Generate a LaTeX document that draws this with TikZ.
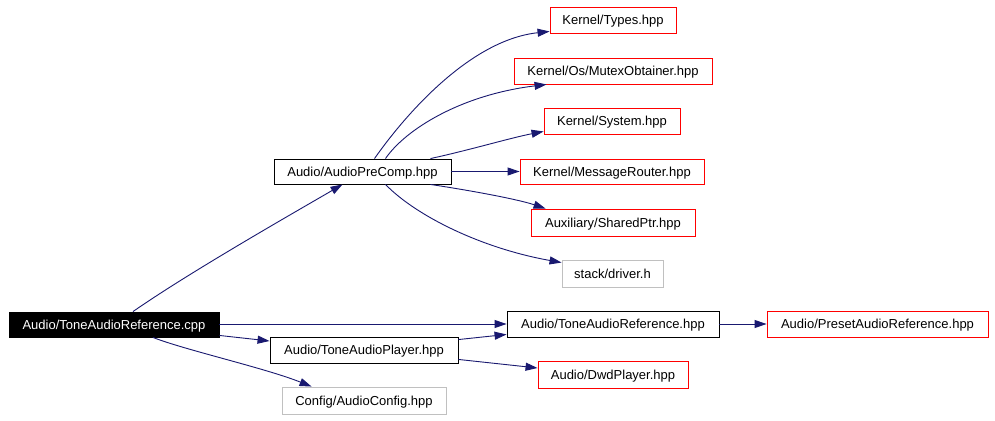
\documentclass[tikz,border=0pt]{standalone}
\usepackage{fontspec}
\setmainfont{Liberation Sans}
\usetikzlibrary{arrows.meta}
\definecolor{edgeblue}{HTML}{191970}
\definecolor{boxgray}{HTML}{C0C0C0}
\begin{document}
\begin{tikzpicture}[x=1pt,y=-1pt,
  box/.style={draw=black,line width=0.9pt,inner sep=0pt,text height=9.4pt,text depth=0pt,font=\fontsize{13}{15}\selectfont,text=black},
  redbox/.style={box,draw=red},
  graybox/.style={box,draw=boxgray},
  rootbox/.style={box,fill=black,text=white},
  dep/.style={draw=edgeblue,line width=0.9pt,-{Triangle[length=12pt,width=8pt]}}]
\path[use as bounding box,fill=white] (0,0) rectangle (995,420);
% nodes
\node[rootbox,minimum width=210pt,minimum height=25pt] (cpp) at (114,324.5) {Audio/ToneAudioReference.cpp};
\node[box,minimum width=177pt,minimum height=25pt] (pc) at (362.5,171.5) {Audio/AudioPreComp.hpp};
\node[redbox,minimum width=126pt,minimum height=26pt] (types) at (613,20) {Kernel/Types.hpp};
\node[redbox,minimum width=198pt,minimum height=26pt] (mutex) at (613,71) {Kernel/Os/MutexObtainer.hpp};
\node[redbox,minimum width=136pt,minimum height=26pt] (system) at (612,121) {Kernel/System.hpp};
\node[redbox,minimum width=184pt,minimum height=25pt] (mr) at (612,171.5) {Kernel/MessageRouter.hpp};
\node[redbox,minimum width=164pt,minimum height=27pt] (sp) at (613,222.5) {Auxiliary/SharedPtr.hpp};
\node[graybox,minimum width=101pt,minimum height=27pt] (drv) at (612.5,273.5) {stack/driver.h};
\node[box,minimum width=212pt,minimum height=26pt] (tar) at (613,324) {Audio/ToneAudioReference.hpp};
\node[redbox,minimum width=221pt,minimum height=26pt] (par) at (877.5,324) {Audio/PresetAudioReference.hpp};
\node[box,minimum width=188pt,minimum height=26pt] (tap) at (364,350) {Audio/ToneAudioPlayer.hpp};
\node[redbox,minimum width=150pt,minimum height=27pt] (dwd) at (613,374.5) {Audio/DwdPlayer.hpp};
\node[graybox,minimum width=164pt,minimum height=27pt] (ac) at (364,400.5) {Config/AudioConfig.hpp};
% edges
\draw[dep] ([xshift=19pt]cpp.north) .. controls (190,272) and (290,215) .. ([xshift=-20pt]pc.south);
\draw[dep] (cpp.east |- tar.west) -- (tar.west);
\draw[dep] ([yshift=2pt]cpp.south east) -- ([yshift=9pt]tap.west);
\draw[dep] ([xshift=39pt]cpp.south) .. controls (185,350) and (265,368) .. ([xshift=30pt]ac.north west);
\draw[dep] ([xshift=12pt]pc.north) .. controls (405,115) and (470,40) .. ([yshift=2pt]types.south west);
\draw[dep] ([xshift=23pt]pc.north) .. controls (405,130) and (460,95) .. ([xshift=33pt]mutex.south west);
\draw[dep] ([xshift=68pt]pc.north) .. controls (470,150) and (510,138) .. ([yshift=3pt]system.south west);
\draw[dep] (pc.east) -- (mr.west);
\draw[dep] ([xshift=68pt]pc.south) .. controls (480,192) and (520,200) .. ([xshift=15pt]sp.north west);
\draw[dep] ([xshift=23pt]pc.south) .. controls (415,215) and (480,248) .. ([yshift=-3pt]drv.north west);
\draw[dep] ([yshift=-3pt]tap.north east) -- ([yshift=3pt]tar.south west);
\draw[dep] ([yshift=4pt]tap.south east) -- ([yshift=6.5pt]dwd.west);
\draw[dep] (tar.east) -- (par.west);
\end{tikzpicture}
\end{document}
